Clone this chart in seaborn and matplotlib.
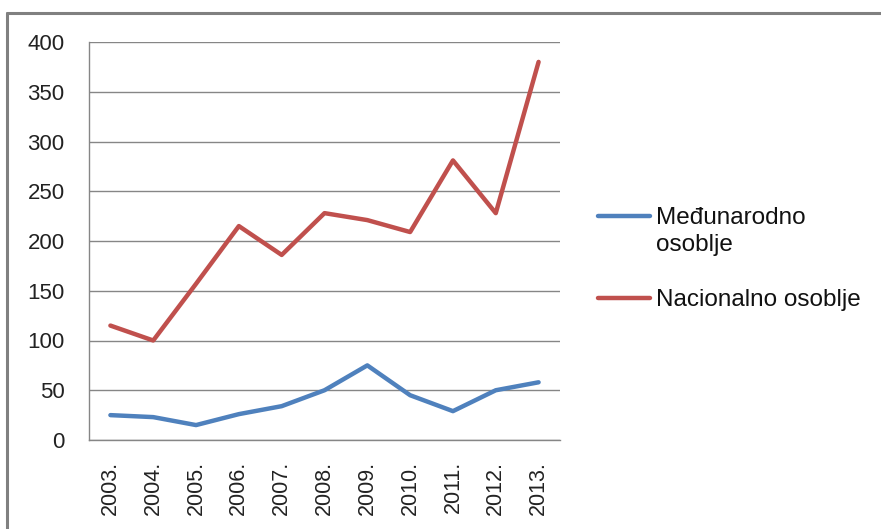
import matplotlib
matplotlib.use("Agg")
import matplotlib.pyplot as plt
import seaborn as sns
import pandas as pd
from matplotlib.lines import Line2D

years = ["2003.", "2004.", "2005.", "2006.", "2007.", "2008.", "2009.", "2010.", "2011.", "2012.", "2013."]
medjunarodno = [25, 23, 15, 26, 34, 50, 75, 45, 29, 50, 58]
nacionalno = [115, 100, 157, 215, 186, 228, 221, 209, 281, 228, 380]
series_names = ["Međunarodno\nosoblje", "Nacionalno osoblje"]
y_ticks = [0, 50, 100, 150, 200, 250, 300, 350, 400]

df = pd.concat([
    pd.DataFrame({"year": years, "value": medjunarodno, "series": series_names[0]}),
    pd.DataFrame({"year": years, "value": nacionalno, "series": series_names[1]}),
])

sns.set_theme(style="white")
plt.rcParams["font.family"] = ["Liberation Sans", "DejaVu Sans"]

fig = plt.figure(figsize=(8.81, 5.29), dpi=100)
ax = fig.add_axes([89/881, 1-440/529, (560-89)/881, (440-42)/529])

palette = {series_names[0]: "#4F81BD", series_names[1]: "#C0504D"}
sns.lineplot(data=df, x="year", y="value", hue="series", palette=palette,
             linewidth=3.2, ax=ax, sort=False, legend=False)

ax.set_xlim(-0.5, len(years) - 0.5)
ax.set_ylim(0, 400)
ax.set_yticks(y_ticks)
ax.set_yticklabels([str(v) for v in y_ticks], fontsize=16, color="#222222")
ax.set_xticks(range(len(years)))
ax.set_xticklabels(years, rotation=90, fontsize=15.5, color="#222222")
ax.set_xticks([i - 0.5 for i in range(len(years) + 1)], minor=True)
ax.tick_params(axis="x", which="major", length=0, pad=15)
ax.tick_params(axis="x", which="minor", length=7, width=1, color="#868686", direction="out")
ax.tick_params(axis="y", which="major", length=6.5, width=1, color="#868686", direction="out", pad=11)
ax.set_xlabel("")
ax.set_ylabel("")
ax.grid(axis="y", color="#868686", linewidth=1)
ax.set_axisbelow(True)
for s in ["top", "right"]:
    ax.spines[s].set_visible(False)
for s in ["left", "bottom"]:
    ax.spines[s].set_color("#868686")
    ax.spines[s].set_linewidth(1)

# legend drawn beside the plot area
W, H = 881, 529
legend_rows = [(series_names[0], 216), (series_names[1], 298)]
for name, ypx in legend_rows:
    fig.add_artist(Line2D([598/W, 650/W], [1-ypx/H, 1-ypx/H], transform=fig.transFigure,
                          color=palette[name], linewidth=3.2, solid_capstyle="round"))
    fig.text(656/W, 1-(ypx - 9)/H, name, fontsize=17.5, color="#111111",
             ha="left", va="top", linespacing=1.3)

# outer chart border (top and left edges visible)
fig.add_artist(Line2D([7/W, 7/W], [0, 1-12.5/H], transform=fig.transFigure,
                      color="#808080", linewidth=2.2))
fig.add_artist(Line2D([7/W, 1], [1-12.5/H, 1-12.5/H], transform=fig.transFigure,
                      color="#808080", linewidth=2.2))

fig.savefig("out.png", dpi=100, facecolor="white")
